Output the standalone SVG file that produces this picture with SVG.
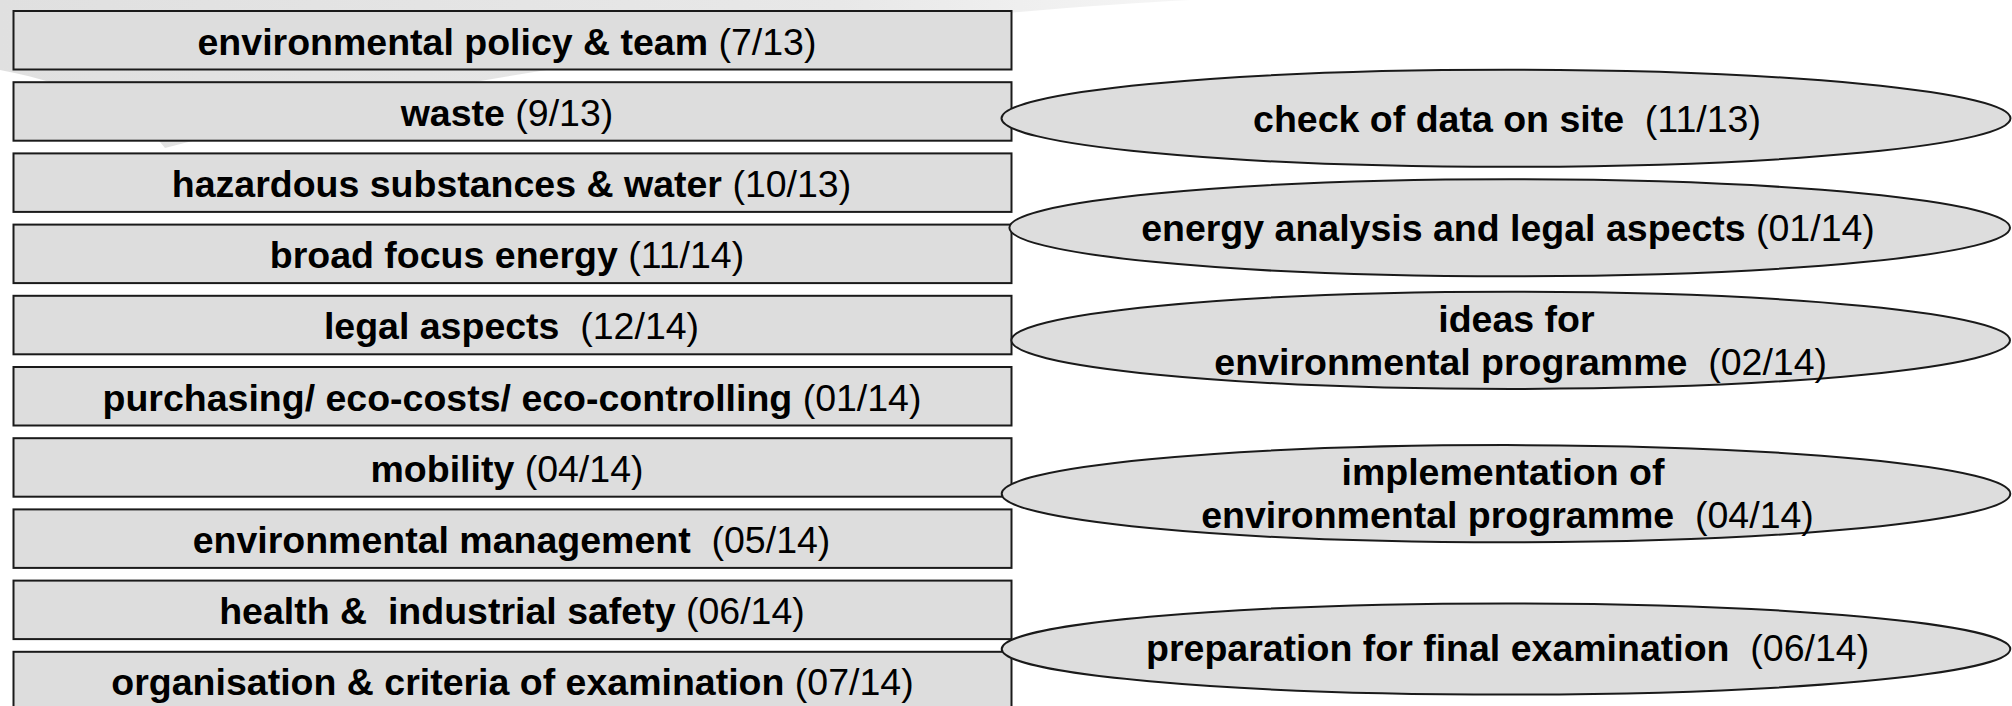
<svg xmlns="http://www.w3.org/2000/svg" width="2012" height="706" viewBox="0 0 2012 706">
<defs>
<linearGradient id="sw" x1="0" y1="0" x2="1200" y2="0" gradientUnits="userSpaceOnUse">
<stop offset="0" stop-color="#e0e0e0"/>
<stop offset="0.7" stop-color="#e8e8e8"/>
<stop offset="1" stop-color="#f6f6f6"/>
</linearGradient>
<style>
.box{fill:#dddddd;stroke:#1a1a1a;stroke-width:2}
.ell{fill:#dddddd;stroke:#1a1a1a;stroke-width:2}
text{font-family:"Liberation Sans",Arial,sans-serif;font-size:37.5px;fill:#000;white-space:pre}
.c{text-anchor:middle}
.b{font-weight:bold}
</style>
</defs>
<rect width="2012" height="706" fill="#ffffff"/>
<g id="background">
<path d="M0,0 L1190,0 C950,12 500,60 165,148 C140,115 80,85 0,70 Z" fill="url(#sw)"/>
</g>
<g id="connectors"></g>
<g id="topics">
<g id="t1"><rect class="box" x="13.5" y="11" width="998" height="58.5"/><text class="c" x="507" y="54.5" xml:space="preserve"><tspan class="b">environmental policy &amp; team</tspan> (7/13)</text></g>
<g id="t2"><rect class="box" x="13.5" y="82.2" width="998" height="58.5"/><text class="c" x="507" y="125.7" xml:space="preserve"><tspan class="b">waste</tspan> (9/13)</text></g>
<g id="t3"><rect class="box" x="13.5" y="153.4" width="998" height="58.5"/><text class="c" x="511.5" y="196.9" xml:space="preserve"><tspan class="b">hazardous substances &amp; water</tspan> (10/13)</text></g>
<g id="t4"><rect class="box" x="13.5" y="224.6" width="998" height="58.5"/><text class="c" x="507" y="268.1" xml:space="preserve"><tspan class="b">broad focus energy</tspan> (11/14)</text></g>
<g id="t5"><rect class="box" x="13.5" y="295.8" width="998" height="58.5"/><text class="c" x="511.5" y="339.3" xml:space="preserve"><tspan class="b">legal aspects</tspan>  (12/14)</text></g>
<g id="t6"><rect class="box" x="13.5" y="367" width="998" height="58.5"/><text class="c" x="512" y="410.5" xml:space="preserve"><tspan class="b">purchasing/ eco-costs/ eco-controlling</tspan> (01/14)</text></g>
<g id="t7"><rect class="box" x="13.5" y="438.2" width="998" height="58.5"/><text class="c" x="507" y="481.7" xml:space="preserve"><tspan class="b">mobility</tspan> (04/14)</text></g>
<g id="t8"><rect class="box" x="13.5" y="509.4" width="998" height="58.5"/><text class="c" x="511.5" y="552.9" xml:space="preserve"><tspan class="b">environmental management</tspan>  (05/14)</text></g>
<g id="t9"><rect class="box" x="13.5" y="580.6" width="998" height="58.5"/><text class="c" x="512" y="624.1" xml:space="preserve"><tspan class="b">health &amp;  industrial safety</tspan> (06/14)</text></g>
<g id="t10"><rect class="box" x="13.5" y="651.8" width="998" height="58.5"/><text class="c" x="512.5" y="695.3" xml:space="preserve"><tspan class="b">organisation &amp; criteria of examination</tspan> (07/14)</text></g>
</g>
<g id="phases">
<g id="p1"><ellipse class="ell" cx="1506" cy="118.3" rx="504.5" ry="48.5"/><text class="c" x="1507" y="131.7" xml:space="preserve"><tspan class="b">check of data on site</tspan>  (11/13)</text></g>
<g id="p2"><ellipse class="ell" cx="1509.7" cy="227.8" rx="500.3" ry="48.5"/><text class="c" x="1508" y="241" xml:space="preserve"><tspan class="b">energy analysis and legal aspects</tspan> (01/14)</text></g>
<g id="p3"><ellipse class="ell" cx="1510.7" cy="340.3" rx="499.3" ry="48.6"/><text class="c" xml:space="preserve"><tspan class="b" x="1516.4" y="332">ideas for</tspan><tspan x="1520.7" y="374.8"><tspan class="b">environmental programme</tspan>  (02/14)</tspan></text></g>
<g id="p4"><ellipse class="ell" cx="1506" cy="493.7" rx="504.3" ry="48.6"/><text class="c" xml:space="preserve"><tspan class="b" x="1503" y="485">implementation of</tspan><tspan x="1507.5" y="527.5"><tspan class="b">environmental programme</tspan>  (04/14)</tspan></text></g>
<g id="p5"><ellipse class="ell" cx="1506" cy="649" rx="504.3" ry="45.6"/><text class="c" x="1507.6" y="661" xml:space="preserve"><tspan class="b">preparation for final examination</tspan>  (06/14)</text></g>
</g>
</svg>
